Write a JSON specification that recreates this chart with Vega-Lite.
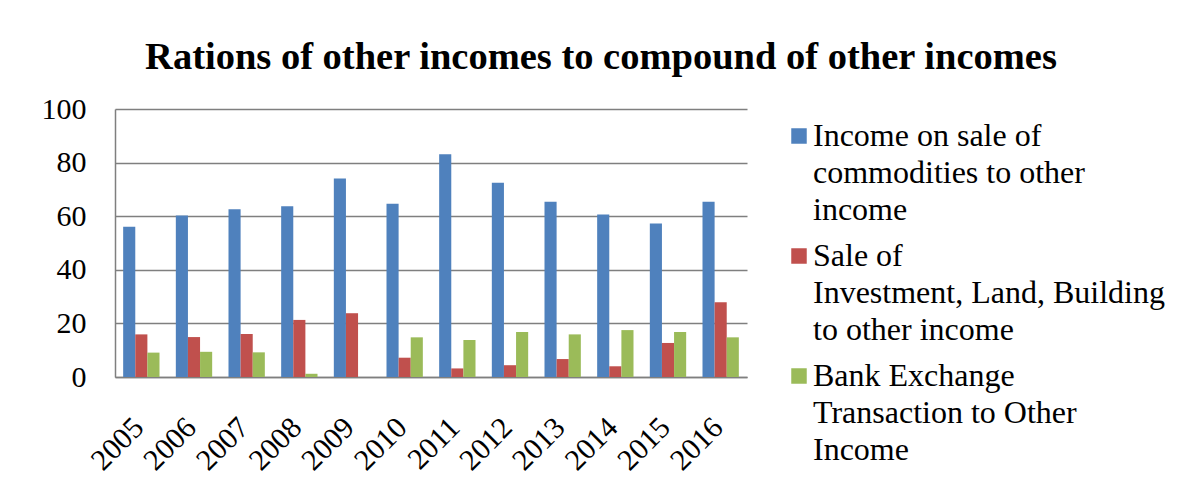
{
  "$schema": "https://vega.github.io/schema/vega-lite/v6.json",
  "width": 632,
  "height": 268,
  "autosize": "none",
  "padding": {"left": 115, "top": 109, "right": 434, "bottom": 122},
  "background": "white",
  "title": {
    "text": "Rations of other incomes to compound of other incomes",
    "font": "Liberation Serif",
    "fontSize": 38.5,
    "fontWeight": "bold",
    "color": "black",
    "anchor": "middle",
    "frame": "group",
    "dx": 170,
    "baseline": "alphabetic",
    "offset": -13
  },
  "data": {
    "values": [
      {"year": "2005", "series": "Income on sale of commodities to other income", "value": 56.1},
      {"year": "2005", "series": "Sale of Investment, Land, Building to other income", "value": 15.9},
      {"year": "2005", "series": "Bank Exchange Transaction to Other Income", "value": 9.1},
      {"year": "2006", "series": "Income on sale of commodities to other income", "value": 60.3},
      {"year": "2006", "series": "Sale of Investment, Land, Building to other income", "value": 14.9},
      {"year": "2006", "series": "Bank Exchange Transaction to Other Income", "value": 9.4},
      {"year": "2007", "series": "Income on sale of commodities to other income", "value": 62.6},
      {"year": "2007", "series": "Sale of Investment, Land, Building to other income", "value": 16.0},
      {"year": "2007", "series": "Bank Exchange Transaction to Other Income", "value": 9.2},
      {"year": "2008", "series": "Income on sale of commodities to other income", "value": 63.7},
      {"year": "2008", "series": "Sale of Investment, Land, Building to other income", "value": 21.3},
      {"year": "2008", "series": "Bank Exchange Transaction to Other Income", "value": 1.2},
      {"year": "2009", "series": "Income on sale of commodities to other income", "value": 74.1},
      {"year": "2009", "series": "Sale of Investment, Land, Building to other income", "value": 23.8},
      {"year": "2009", "series": "Bank Exchange Transaction to Other Income", "value": 0},
      {"year": "2010", "series": "Income on sale of commodities to other income", "value": 64.6},
      {"year": "2010", "series": "Sale of Investment, Land, Building to other income", "value": 7.2},
      {"year": "2010", "series": "Bank Exchange Transaction to Other Income", "value": 14.8},
      {"year": "2011", "series": "Income on sale of commodities to other income", "value": 83.1},
      {"year": "2011", "series": "Sale of Investment, Land, Building to other income", "value": 3.2},
      {"year": "2011", "series": "Bank Exchange Transaction to Other Income", "value": 13.8},
      {"year": "2012", "series": "Income on sale of commodities to other income", "value": 72.5},
      {"year": "2012", "series": "Sale of Investment, Land, Building to other income", "value": 4.4},
      {"year": "2012", "series": "Bank Exchange Transaction to Other Income", "value": 16.8},
      {"year": "2013", "series": "Income on sale of commodities to other income", "value": 65.4},
      {"year": "2013", "series": "Sale of Investment, Land, Building to other income", "value": 6.7},
      {"year": "2013", "series": "Bank Exchange Transaction to Other Income", "value": 15.9},
      {"year": "2014", "series": "Income on sale of commodities to other income", "value": 60.6},
      {"year": "2014", "series": "Sale of Investment, Land, Building to other income", "value": 4.0},
      {"year": "2014", "series": "Bank Exchange Transaction to Other Income", "value": 17.5},
      {"year": "2015", "series": "Income on sale of commodities to other income", "value": 57.3},
      {"year": "2015", "series": "Sale of Investment, Land, Building to other income", "value": 12.7},
      {"year": "2015", "series": "Bank Exchange Transaction to Other Income", "value": 16.8},
      {"year": "2016", "series": "Income on sale of commodities to other income", "value": 65.4},
      {"year": "2016", "series": "Sale of Investment, Land, Building to other income", "value": 27.9},
      {"year": "2016", "series": "Bank Exchange Transaction to Other Income", "value": 14.8}
    ]
  },
  "mark": {"type": "bar"},
  "encoding": {
    "x": {
      "field": "year",
      "type": "nominal",
      "scale": {"paddingInner": 0.31, "paddingOuter": 0.155},
      "axis": {
        "title": null,
        "grid": false,
        "ticks": false,
        "tickSize": 0,
        "domainColor": "#7f7f7f",
        "domainWidth": 1.5,
        "labelAngle": -45,
        "labelAlign": "right",
        "labelBaseline": "top",
        "labelPadding": 35,
        "labelOffset": -13,
        "labelFont": "Liberation Serif",
        "labelFontSize": 30,
        "labelColor": "black"
      }
    },
    "xOffset": {
      "field": "series",
      "sort": ["Income on sale of commodities to other income", "Sale of Investment, Land, Building to other income", "Bank Exchange Transaction to Other Income"]
    },
    "y": {
      "field": "value",
      "type": "quantitative",
      "scale": {"domain": [0, 100]},
      "axis": {
        "title": null,
        "values": [0, 20, 40, 60, 80, 100],
        "grid": true,
        "gridColor": "#7f7f7f",
        "gridWidth": 1.5,
        "ticks": false,
        "tickSize": 0,
        "domainColor": "#7f7f7f",
        "domainWidth": 1.5,
        "labelPadding": 29,
        "labelFont": "Liberation Serif",
        "labelFontSize": 30,
        "labelColor": "black"
      }
    },
    "color": {
      "field": "series",
      "type": "nominal",
      "scale": {
        "domain": ["Income on sale of commodities to other income", "Sale of Investment, Land, Building to other income", "Bank Exchange Transaction to Other Income"],
        "range": ["#4f81bd", "#c0504d", "#9bbb59"]
      },
      "legend": {
        "orient": "none",
        "legendX": 668,
        "legendY": 11,
        "title": null,
        "padding": 0,
        "symbolType": "square",
        "symbolSize": 240,
        "symbolStrokeWidth": 0,
        "labelFont": "Liberation Serif",
        "labelFontSize": 32,
        "labelColor": "black",
        "labelOffset": -2,
        "labelLimit": 0,
        "rowPadding": 14,
        "labelExpr": "datum.value == 'Income on sale of commodities to other income' ? ['Income on sale of', 'commodities to other', 'income'] : datum.value == 'Sale of Investment, Land, Building to other income' ? ['Sale of', 'Investment, Land, Building', 'to other income'] : ['Bank Exchange', 'Transaction to Other', 'Income']"
      }
    }
  },
  "config": {
    "view": {"stroke": null},
    "style": {"guide-label": {"lineHeight": 37}}
  }
}
